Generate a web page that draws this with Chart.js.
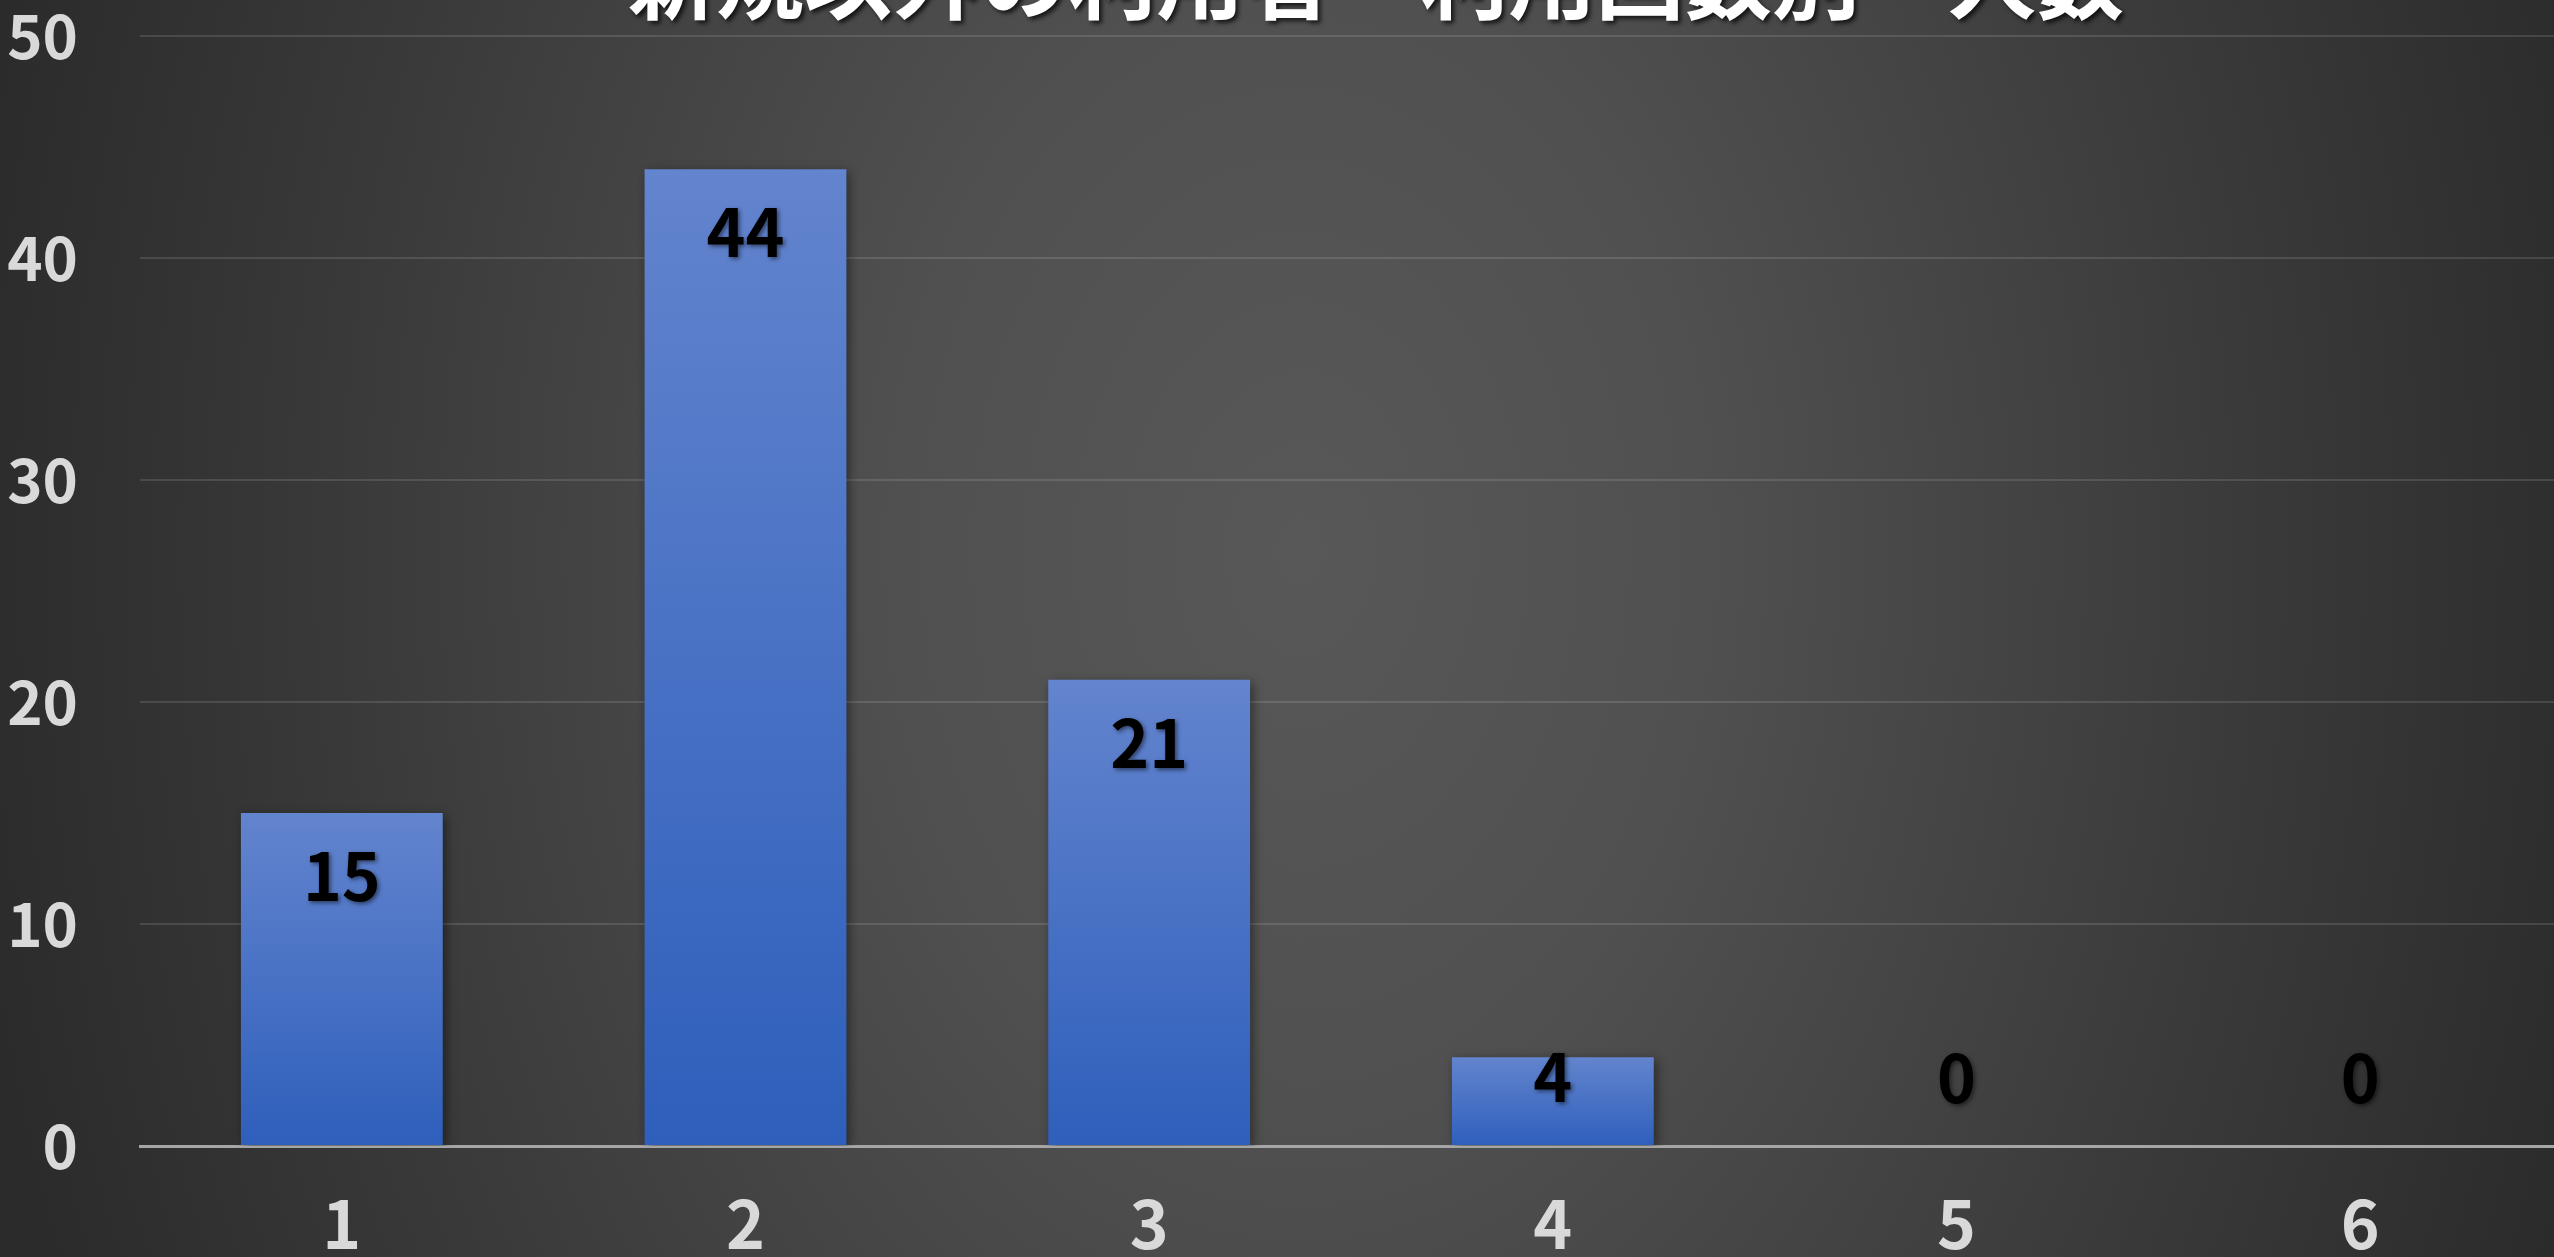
<!DOCTYPE html>
<html lang="ja">
<head>
<meta charset="utf-8">
<title>新規以外の利用者　利用回数別　人数</title>
<script src="https://cdn.jsdelivr.net/npm/chart.js@4/dist/chart.umd.min.js"></script>
<style>
  html, body { margin: 0; padding: 0; overflow: hidden; }
  body {
    width: 2554px; height: 1257px; position: relative;
    background: radial-gradient(ellipse 1350px 1900px at 1300px 550px,
      #585858 0%, #505050 30%, #3a3a3a 70%, #2b2b2b 100%);
  }
  #title {
    position: absolute; left: 1376px; top: -70px; transform: translateX(-50%);
    margin: 0; white-space: nowrap;
    font: bold 88px "Noto Sans CJK JP", sans-serif; line-height: 1;
    color: #ffffff; text-shadow: 3px 3px 4px rgba(0,0,0,0.7);
  }
  #wrap { position: absolute; left: 0; top: -62px; width: 2562px; height: 1319px; }
</style>
</head>
<body>
<div id="title">新規以外の利用者　利用回数別　人数</div>
<div id="wrap"><canvas id="chart"></canvas></div>
<script>
// chart data
const categories = ["1", "2", "3", "4", "5", "6"];
const counts = [15, 44, 21, 4, 0, 0];
const yTicks = [0, 10, 20, 30, 40, 50];

const FONT = '"Noto Sans CJK JP", sans-serif';

// per-bar vertical gradient (lighter at the top of each bar)
function barFill(ctx) {
  const chart = ctx.chart;
  const y = chart.scales.y;
  if (!y || ctx.parsed === undefined) return "#4472c4";
  const top = y.getPixelForValue(ctx.parsed.y);
  const base = y.getPixelForValue(0);
  if (!isFinite(top) || top === base) return "#4472c4";
  const g = chart.ctx.createLinearGradient(0, top, 0, base);
  g.addColorStop(0, "#6384ce");
  g.addColorStop(1, "#2e5fbb");
  return g;
}

// soft shadow behind the bars
const barShadow = {
  id: "barShadow",
  beforeDatasetsDraw(chart) {
    const c = chart.ctx;
    c.save();
    c.shadowColor = "rgba(0,0,0,0.45)";
    c.shadowBlur = 10;
    c.shadowOffsetX = 3;
    c.shadowOffsetY = 3;
  },
  afterDatasetsDraw(chart) {
    chart.ctx.restore();
  }
};

// value labels, inside end of bar, kept above the axis for short bars
const valueLabels = {
  id: "valueLabels",
  afterDatasetsDraw(chart) {
    const c = chart.ctx;
    const meta = chart.getDatasetMeta(0);
    c.save();
    c.font = "bold 66px " + FONT;
    c.fillStyle = "#000000";
    c.textAlign = "center";
    c.textBaseline = "middle";
    c.shadowColor = "rgba(0,0,0,0.5)";
    c.shadowBlur = 4;
    c.shadowOffsetX = 2;
    c.shadowOffsetY = 2;
    meta.data.forEach((bar, i) => {
      const y = Math.min(bar.y + 63, bar.base - 68);
      c.fillText(String(counts[i]), bar.x, y);
    });
    c.restore();
  }
};

new Chart(document.getElementById("chart"), {
  type: "bar",
  data: {
    labels: categories,
    datasets: [{
      data: counts,
      backgroundColor: barFill,
      borderWidth: 0,
      barPercentage: 0.5,
      categoryPercentage: 1.0
    }]
  },
  options: {
    responsive: true,
    maintainAspectRatio: false,
    animation: false,
    layout: { padding: 0 },
    plugins: {
      legend: { display: false },
      title: { display: false },
      tooltip: { enabled: false }
    },
    scales: {
      x: {
        grid: { display: false, drawTicks: false },
        border: { display: true, color: "#a6a6a6", width: 3 },
        ticks: {
          color: "#d9d9d9",
          font: { family: FONT, size: 66, weight: "bold" },
          padding: 38
        },
        afterFit: (scale) => { scale.height = 111; }
      },
      y: {
        min: 0,
        max: 50,
        afterBuildTicks: (scale) => {
          scale.ticks = yTicks.map(v => ({ value: v }));
        },
        grid: {
          color: "rgba(255,255,255,0.12)",
          lineWidth: 2,
          drawTicks: false
        },
        border: { display: false },
        ticks: {
          color: "#d9d9d9",
          font: { family: FONT, size: 60, weight: "bold" },
          padding: 62
        },
        afterFit: (scale) => { scale.width = 140; }
      }
    }
  },
  plugins: [barShadow, valueLabels]
});
</script>
</body>
</html>
